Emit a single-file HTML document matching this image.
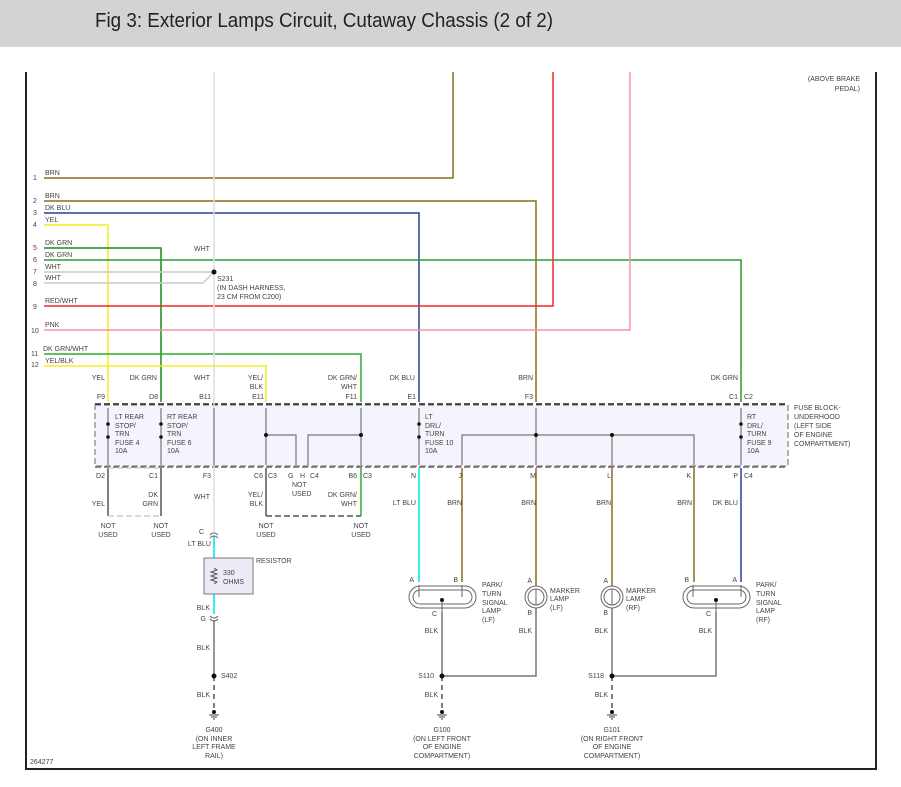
<!DOCTYPE html>
<html><head><meta charset="utf-8"><style>
html,body{margin:0;padding:0;background:#fff;}
svg{display:block;}
text{font-family:"Liberation Sans",sans-serif;font-size:7px;fill:#444;}
</style></head><body>
<svg width="901" height="787" viewBox="0 0 901 787" xmlns="http://www.w3.org/2000/svg">
<rect x="0" y="0" width="901" height="47" fill="#d3d3d3"/>
<text x="95" y="27" style="font-size:20px;fill:#222" textLength="458" lengthAdjust="spacingAndGlyphs">Fig 3: Exterior Lamps Circuit, Cutaway Chassis (2 of 2)</text>
<!-- frame -->
<path d="M26 72 V769 H876 V72" fill="none" stroke="#222" stroke-width="2"/>
<text x="30" y="764">264277</text>
<text x="860" y="81" text-anchor="end">(ABOVE BRAKE</text>
<text x="860" y="91" text-anchor="end">PEDAL)</text>

<!-- fuse block -->
<rect x="95" y="405" width="693" height="61" fill="#f4f4fd" stroke="#999" stroke-width="1.5" stroke-dasharray="6,3"/>
<line x1="95" y1="404" x2="788" y2="404" stroke="#222" stroke-width="1.5" stroke-dasharray="6,3"/>
<line x1="95" y1="467" x2="788" y2="467" stroke="#666" stroke-width="1.5" stroke-dasharray="6,3"/>
<text x="794" y="410">FUSE BLOCK-</text>
<text x="794" y="419">UNDERHOOD</text>
<text x="794" y="428">(LEFT SIDE</text>
<text x="794" y="437">OF ENGINE</text>
<text x="794" y="446">COMPARTMENT)</text>

<!-- horizontal wires -->
<g fill="none" stroke-width="1.5">
<path d="M44 178 H453 V72" stroke="#8a6d1e"/>
<path d="M44 201 H536 V402" stroke="#8a6d1e"/>
<path d="M44 213 H419 V402" stroke="#2a3d9a"/>
<path d="M44 225 H108 V402" stroke="#f0f020"/>
<path d="M44 248 H161 V402" stroke="#1a8a1a"/>
<path d="M44 260 H741 V402" stroke="#2e9a2e"/>
<path d="M44 272 H214" stroke="#ccc"/>
<path d="M44 283 H203 L214 272" stroke="#ccc"/>
<path d="M44 306 H553 V72" stroke="#f02828"/>
<path d="M44 330 H630 V72" stroke="#f890a0"/>
<path d="M44 354 H361 V402" stroke="#2ea82e"/>
<path d="M44 366 H266 V402" stroke="#f0f020"/>
<path d="M214 72 V532" stroke="#ddd"/>
</g>
<circle cx="214" cy="272" r="2.5" fill="#111"/>
<g>
<text x="33" y="180">1</text><text x="45" y="175">BRN</text>
<text x="33" y="203">2</text><text x="45" y="198">BRN</text>
<text x="33" y="215">3</text><text x="45" y="210">DK BLU</text>
<text x="33" y="227">4</text><text x="45" y="222">YEL</text>
<text x="33" y="250">5</text><text x="45" y="245">DK GRN</text>
<text x="33" y="262">6</text><text x="45" y="257">DK GRN</text>
<text x="33" y="274">7</text><text x="45" y="269">WHT</text>
<text x="33" y="286">8</text><text x="45" y="280">WHT</text>
<text x="33" y="309">9</text><text x="45" y="303">RED/WHT</text>
<text x="31" y="333">10</text><text x="45" y="327">PNK</text>
<text x="31" y="356">11</text><text x="43" y="351">DK GRN/WHT</text>
<text x="31" y="367">12</text><text x="45" y="363">YEL/BLK</text>
<text x="194" y="251">WHT</text>
<text x="217" y="281">S231</text>
<text x="217" y="290">(IN DASH HARNESS,</text>
<text x="217" y="299">23 CM FROM C200)</text>
</g>
<!-- top wire labels -->
<g text-anchor="end">
<text x="105" y="380">YEL</text><text x="157" y="380">DK GRN</text><text x="210" y="380">WHT</text>
<text x="263" y="380">YEL/</text><text x="263" y="389">BLK</text>
<text x="357" y="380">DK GRN/</text><text x="357" y="389">WHT</text>
<text x="415" y="380">DK BLU</text><text x="533" y="380">BRN</text><text x="738" y="380">DK GRN</text>
<text x="105" y="399">F9</text><text x="158" y="399">D8</text><text x="211" y="399">B11</text>
<text x="264" y="399">E11</text><text x="357" y="399">F11</text><text x="416" y="399">E1</text>
<text x="533" y="399">F3</text><text x="738" y="399">C1</text>
</g>
<text x="744" y="399">C2</text>
<!-- internal fuse block lines -->
<g stroke="#777" stroke-width="1.2" fill="none">
<path d="M108 408 V465 M161 408 V465 M214 408 V465 M266 408 V465 M361 408 V465 M419 408 V465 M536 408 V465 M741 408 V465"/>
<path d="M266 435 H296 V465 M308 465 V435 H361"/>
<path d="M462 465 V435 H694 V465 M612 435 V465"/>
</g>
<g fill="#111">
<circle cx="266" cy="435" r="2"/><circle cx="361" cy="435" r="2"/><circle cx="536" cy="435" r="2"/><circle cx="612" cy="435" r="2"/>
<circle cx="108" cy="424" r="1.8"/><circle cx="108" cy="437" r="1.8"/>
<circle cx="161" cy="424" r="1.8"/><circle cx="161" cy="437" r="1.8"/>
<circle cx="419" cy="424" r="1.8"/><circle cx="419" cy="437" r="1.8"/>
<circle cx="741" cy="424" r="1.8"/><circle cx="741" cy="437" r="1.8"/>
</g>
<g>
<text x="115" y="419">LT REAR</text><text x="115" y="428">STOP/</text><text x="115" y="436">TRN</text><text x="115" y="445">FUSE 4</text><text x="115" y="453">10A</text>
<text x="167" y="419">RT REAR</text><text x="167" y="428">STOP/</text><text x="167" y="436">TRN</text><text x="167" y="445">FUSE 6</text><text x="167" y="453">10A</text>
<text x="425" y="419">LT</text><text x="425" y="428">DRL/</text><text x="425" y="436">TURN</text><text x="425" y="445">FUSE 10</text><text x="425" y="453">10A</text>
<text x="747" y="419">RT</text><text x="747" y="428">DRL/</text><text x="747" y="436">TURN</text><text x="747" y="445">FUSE 9</text><text x="747" y="453">10A</text>
</g>
<!-- bottom pin labels -->
<g text-anchor="end">
<text x="105" y="478">D2</text><text x="158" y="478">C1</text><text x="211" y="478">F3</text><text x="263" y="478">C6</text>
<text x="357" y="478">B6</text><text x="416" y="478">N</text><text x="462" y="478">J</text><text x="536" y="478">M</text>
<text x="611" y="478">L</text><text x="691" y="478">K</text><text x="738" y="478">P</text>
</g>
<text x="268" y="478">C3</text><text x="288" y="478">G</text><text x="300" y="478">H</text><text x="310" y="478">C4</text>
<text x="363" y="478">C3</text><text x="744" y="478">C4</text>
<text x="292" y="487">NOT</text><text x="292" y="496">USED</text>
<!-- lower wires -->
<g fill="none" stroke-width="1.5">
<path d="M108 468 V516 M161 468 V516 M266 468 V516" stroke="#555"/>
<path d="M108 468 H161 M108 516 H161" stroke="#ccc" stroke-dasharray="6,3"/>
<path d="M266 516 H361" stroke="#555" stroke-dasharray="6,3"/>
<path d="M361 468 V516" stroke="#2ea82e"/>
<path d="M214 536 V614" stroke="#33eeee" stroke-width="2"/>
<path d="M214 620 V676" stroke="#777"/>
<path d="M214 676 V712 M442 676 V712 M612 676 V712" stroke="#555" stroke-dasharray="5,4"/>
<path d="M419 468 V582" stroke="#33eeee" stroke-width="2"/>
<path d="M462 468 V582 M536 468 V586 M612 468 V586 M694 468 V582" stroke="#8a6d1e"/>
<path d="M741 468 V582" stroke="#2a3d9a"/>
<path d="M442 612 V676 M536 608 V676 H442 M612 608 V676 M716 612 V676 H612" stroke="#777"/>
</g>
<g text-anchor="end">
<text x="105" y="506">YEL</text><text x="158" y="497">DK</text><text x="158" y="506">GRN</text>
<text x="210" y="499">WHT</text><text x="263" y="497">YEL/</text><text x="263" y="506">BLK</text>
<text x="357" y="497">DK GRN/</text><text x="357" y="506">WHT</text>
<text x="416" y="505">LT BLU</text><text x="462" y="505">BRN</text><text x="536" y="505">BRN</text>
<text x="611" y="505">BRN</text><text x="692" y="505">BRN</text><text x="738" y="505">DK BLU</text>
</g>
<g text-anchor="middle">
<text x="108" y="528">NOT</text><text x="108" y="537">USED</text>
<text x="161" y="528">NOT</text><text x="161" y="537">USED</text>
<text x="266" y="528">NOT</text><text x="266" y="537">USED</text>
<text x="361" y="528">NOT</text><text x="361" y="537">USED</text>
</g>
<!-- resistor -->
<text x="204" y="534" text-anchor="end">C</text>
<path d="M210 535 Q214 531 218 535 M210 538 Q214 534 218 538" stroke="#666" fill="none"/>
<text x="211" y="546" text-anchor="end">LT BLU</text>
<rect x="204" y="558" width="49" height="36" fill="#ebebf8" stroke="#777"/>
<path d="M214 568 l3 2 -6 2 6 2 -6 2 6 2 -6 2 6 2 -3 2" stroke="#555" fill="none"/>
<text x="256" y="563">RESISTOR</text>
<text x="223" y="575">330</text><text x="223" y="584">OHMS</text>
<text x="210" y="610" text-anchor="end">BLK</text>
<text x="206" y="621" text-anchor="end">G</text>
<path d="M210 616 Q214 620 218 616 M210 619 Q214 623 218 619" stroke="#666" fill="none"/>
<text x="210" y="650" text-anchor="end">BLK</text>
<circle cx="214" cy="676" r="2.5" fill="#111"/><text x="221" y="678">S402</text>
<text x="210" y="697" text-anchor="end">BLK</text>
<!-- grounds -->
<g stroke="#444" fill="none">
<path d="M209 715 H219 M211 717 H217 M213 719 H215"/>
<path d="M437 715 H447 M439 717 H445 M441 719 H443"/>
<path d="M607 715 H617 M609 717 H615 M611 719 H613"/>
</g>
<circle cx="214" cy="712" r="2" fill="#111"/><circle cx="442" cy="712" r="2" fill="#111"/><circle cx="612" cy="712" r="2" fill="#111"/>
<g text-anchor="middle">
<text x="214" y="732">G400</text><text x="214" y="741">(ON INNER</text><text x="214" y="749">LEFT FRAME</text><text x="214" y="758">RAIL)</text>
<text x="442" y="732">G100</text><text x="442" y="741">(ON LEFT FRONT</text><text x="442" y="749">OF ENGINE</text><text x="442" y="758">COMPARTMENT)</text>
<text x="612" y="732">G101</text><text x="612" y="741">(ON RIGHT FRONT</text><text x="612" y="749">OF ENGINE</text><text x="612" y="758">COMPARTMENT)</text>
</g>
<circle cx="442" cy="676" r="2.5" fill="#111"/><text x="434" y="678" text-anchor="end">S110</text>
<circle cx="612" cy="676" r="2.5" fill="#111"/><text x="604" y="678" text-anchor="end">S118</text>
<g text-anchor="end">
<text x="438" y="633">BLK</text><text x="532" y="633">BLK</text><text x="608" y="633">BLK</text><text x="712" y="633">BLK</text>
<text x="438" y="697">BLK</text><text x="608" y="697">BLK</text>
</g>
<!-- lamps -->
<g stroke="#666" fill="none" stroke-width="1">
<rect x="409" y="586" width="67" height="22" rx="11"/><rect x="413" y="590" width="59" height="14" rx="7"/>
<rect x="683" y="586" width="67" height="22" rx="11"/><rect x="687" y="590" width="59" height="14" rx="7"/>
<circle cx="536" cy="597" r="11"/><circle cx="536" cy="597" r="8"/>
<circle cx="612" cy="597" r="11"/><circle cx="612" cy="597" r="8"/>
<path d="M419 585 V597 M462 585 V597 M693 585 V597 M741 585 V597 M536 589 V605 M612 589 V605"/>
<path d="M442 600 V612 M716 600 V612"/>
</g>
<circle cx="442" cy="600" r="2" fill="#111"/><circle cx="716" cy="600" r="2" fill="#111"/>
<text x="414" y="582" text-anchor="end">A</text><text x="458" y="582" text-anchor="end">B</text>
<text x="437" y="616" text-anchor="end">C</text>
<text x="482" y="587">PARK/</text><text x="482" y="596">TURN</text><text x="482" y="605">SIGNAL</text><text x="482" y="613">LAMP</text><text x="482" y="622">(LF)</text>
<text x="532" y="583" text-anchor="end">A</text><text x="532" y="615" text-anchor="end">B</text>
<text x="550" y="593">MARKER</text><text x="550" y="601">LAMP</text><text x="550" y="610">(LF)</text>
<text x="608" y="583" text-anchor="end">A</text><text x="608" y="615" text-anchor="end">B</text>
<text x="626" y="593">MARKER</text><text x="626" y="601">LAMP</text><text x="626" y="610">(RF)</text>
<text x="689" y="582" text-anchor="end">B</text><text x="737" y="582" text-anchor="end">A</text>
<text x="711" y="616" text-anchor="end">C</text>
<text x="756" y="587">PARK/</text><text x="756" y="596">TURN</text><text x="756" y="605">SIGNAL</text><text x="756" y="613">LAMP</text><text x="756" y="622">(RF)</text>
</svg>
</body></html>
